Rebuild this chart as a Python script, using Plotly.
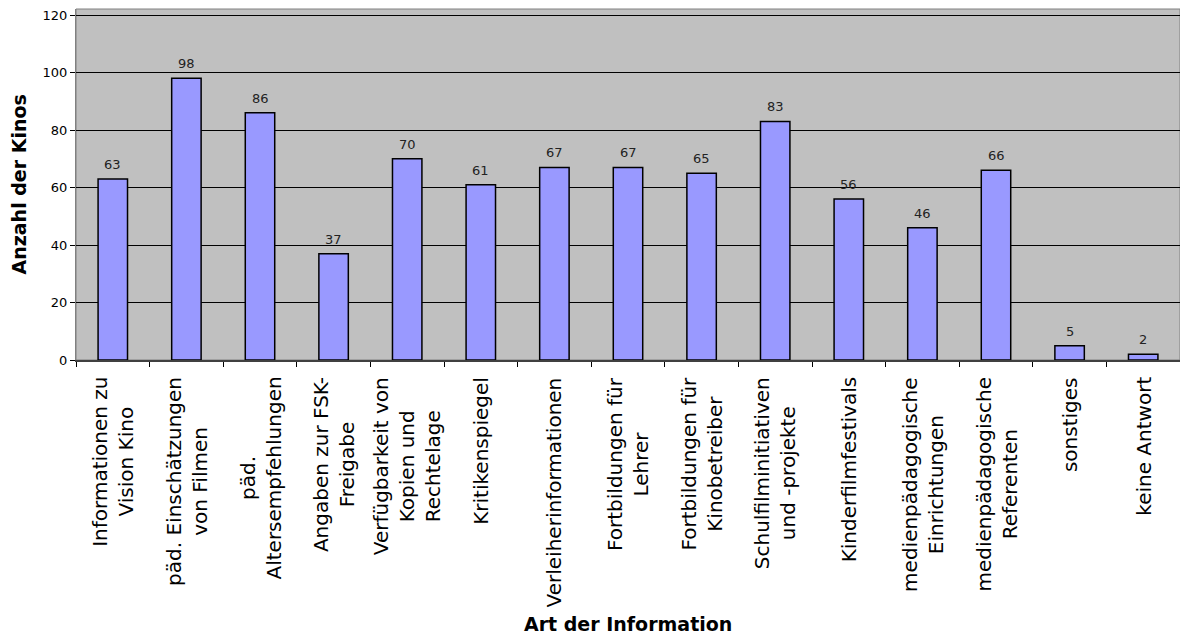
import plotly.graph_objects as go

# Kinds of information requested by the cinemas and number of cinemas naming each
categories = [
    "Informationen zu Vision Kino",
    "päd. Einschätzungen von Filmen",
    "päd. Altersempfehlungen",
    "Angaben zur FSK-Freigabe",
    "Verfügbarkeit von Kopien und Rechtelage",
    "Kritikenspiegel",
    "Verleiherinformationen",
    "Fortbildungen für Lehrer",
    "Fortbildungen für Kinobetreiber",
    "Schulfilminitiativen und -projekte",
    "Kinderfilmfestivals",
    "medienpädagogische Einrichtungen",
    "medienpädagogische Referenten",
    "sonstiges",
    "keine Antwort",
]
tick_labels = [
    "Informationen zu<br>Vision Kino",
    "päd. Einschätzungen<br>von Filmen",
    "päd.<br>Altersempfehlungen",
    "Angaben zur FSK-<br>Freigabe",
    "Verfügbarkeit von<br>Kopien und<br>Rechtelage",
    "Kritikenspiegel",
    "Verleiherinformationen",
    "Fortbildungen für<br>Lehrer",
    "Fortbildungen für<br>Kinobetreiber",
    "Schulfilminitiativen<br>und -projekte",
    "Kinderfilmfestivals",
    "medienpädagogische<br>Einrichtungen",
    "medienpädagogische<br>Referenten",
    "sonstiges",
    "keine Antwort",
]
counts = [63, 98, 86, 37, 70, 61, 67, 67, 65, 83, 56, 46, 66, 5, 2]
y_ticks = [0, 20, 40, 60, 80, 100, 120]

FONT = "DejaVu Sans, Verdana, sans-serif"

fig = go.Figure()
fig.add_trace(go.Bar(
    x=categories,
    y=counts,
    width=0.4,
    marker=dict(color="#9999FF", line=dict(color="#000000", width=1.5)),
))

# Value labels above each bar
for cat, v in zip(categories, counts):
    fig.add_annotation(
        x=cat, y=v, xref="x", yref="y",
        text=str(v), showarrow=False,
        xanchor="center", yanchor="bottom", yshift=5,
        font=dict(family=FONT, size=13, color="#222222"),
    )

# Rotated, centre-aligned category labels under the axis
for cat, lab in zip(categories, tick_labels):
    fig.add_annotation(
        x=cat, y=0, xref="x", yref="paper",
        text=lab, textangle=-90, align="center",
        xanchor="center", yanchor="top", yshift=-15,
        showarrow=False,
        font=dict(family=FONT, size=20, color="#000000"),
    )

# Axis titles
fig.add_annotation(
    x=0.5, y=-0.752, xref="paper", yref="paper", showarrow=False,
    xanchor="center", yanchor="middle",
    text="<b>Art der Information</b>",
    font=dict(family=FONT, size=19, color="#000000"),
)
fig.add_annotation(
    x=0, y=0.5, xref="paper", yref="paper", showarrow=False,
    xanchor="center", yanchor="middle", xshift=-58, textangle=-90,
    text="<b>Anzahl der Kinos</b>",
    font=dict(family=FONT, size=19, color="#000000"),
)

# Plot-area frame
fig.add_shape(type="rect", xref="paper", yref="paper", x0=0, y0=0, x1=1, y1=1,
              line=dict(color="#808080", width=1), layer="below")

fig.update_layout(
    width=1180, height=636,
    margin=dict(l=76, r=0, t=9, b=276),
    paper_bgcolor="#FFFFFF",
    plot_bgcolor="#C0C0C0",
    showlegend=False,
    font=dict(family=FONT, color="#000000"),
    xaxis=dict(
        type="category",
        showticklabels=False,
        ticks="outside", tickson="boundaries", ticklen=5,
        tickcolor="#000000", tickwidth=1,
        showline=True, linecolor="#404040", linewidth=2,
        showgrid=False,
    ),
    yaxis=dict(
        range=[0, 122.1],
        tickvals=y_ticks,
        ticks="outside", ticklen=5, tickcolor="#000000",
        tickfont=dict(family=FONT, size=13, color="#000000"),
        showgrid=True, gridcolor="#000000", gridwidth=1,
        showline=True, linecolor="#808080", linewidth=1,
        zeroline=False,
    ),
)

fig.write_html("out.html")
